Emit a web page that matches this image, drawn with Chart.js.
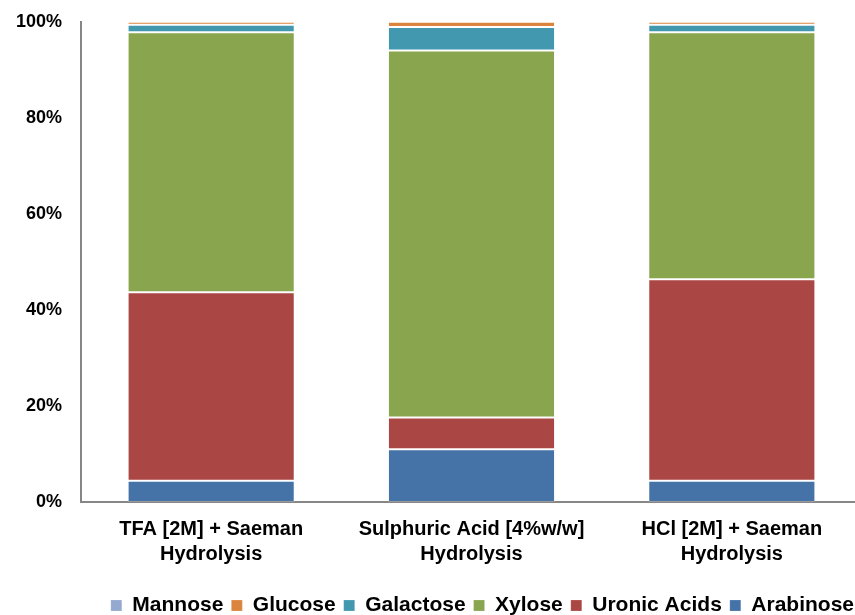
<!DOCTYPE html>
<html>
<head>
<meta charset="utf-8">
<script src="https://cdn.jsdelivr.net/npm/chart.js@4.4.0/dist/chart.umd.min.js"></script>
<style>
    html, body { margin: 0; padding: 0; background: #fff; overflow: hidden; }
    #wrap { width: 862px; height: 615px; }
</style>
</head>
<body>
<div id="wrap"><canvas id="chart-container"></canvas></div>
<script>
const categories = [
    ["TFA [2M] + Saeman", "Hydrolysis"],
    ["Sulphuric Acid [4%w/w]", "Hydrolysis"],
    ["HCl [2M] + Saeman", "Hydrolysis"]
];

// percent of total sugars, bottom of the stack first
const arabinose = [4.4, 11.0, 4.4];
const uronicAcids = [39.3, 6.6, 42.0];
const xylose = [54.1, 76.4, 51.4];
const galactose = [1.6, 4.9, 1.6];
const glucose = [0.6, 1.1, 0.6];
const mannose = [0, 0, 0];

const yTicks = [0, 20, 40, 60, 80, 100];

const FONT = "'Liberation Sans', Arial, sans-serif";

function makeSet(label, data, color) {
    return {
        label: label,
        data: data,
        backgroundColor: color,
        borderColor: "rgba(255,255,255,0.18)",
        borderWidth: 1,
        borderSkipped: false
    };
}

document.addEventListener("DOMContentLoaded", function () {
    const ctx = document.getElementById("chart-container").getContext("2d");

    new Chart(ctx, {
        type: "bar",
        data: {
            labels: categories,
            datasets: [
                makeSet("Arabinose", arabinose, "#4572a7"),
                makeSet("Uronic Acids", uronicAcids, "#aa4643"),
                makeSet("Xylose", xylose, "#89a54e"),
                makeSet("Galactose", galactose, "#4198af"),
                makeSet("Glucose", glucose, "#db843d"),
                makeSet("Mannose", mannose, "#93a9cf")
            ]
        },
        options: {
            responsive: true,
            maintainAspectRatio: false,
            animation: false,
            devicePixelRatio: 1,
            layout: { padding: { top: 6, left: 8, right: 0, bottom: -11 } },
            datasets: {
                bar: { categoryPercentage: 1, barPercentage: 0.642 }
            },
            plugins: {
                tooltip: { enabled: false },
                legend: {
                    position: "bottom",
                    align: "end",
                    reverse: true,
                    title: {
                        display: true,
                        text: "",
                        font: { size: 1, lineHeight: 1 },
                        padding: { top: 0, bottom: 12 }
                    },
                    labels: {
                        color: "#000",
                        font: { family: FONT, size: 21, weight: "bold" },
                        boxWidth: 11,
                        boxHeight: 11,
                        padding: 8
                    }
                }
            },
            scales: {
                x: {
                    stacked: true,
                    grid: { display: false },
                    border: { display: true, color: "#868686", width: 2 },
                    ticks: {
                        color: "#000",
                        font: { family: FONT, size: 20, weight: "bold", lineHeight: 1.25 },
                        maxRotation: 0,
                        padding: 7
                    }
                },
                y: {
                    stacked: true,
                    min: 0,
                    max: 100,
                    afterBuildTicks: function (scale) {
                        scale.ticks = yTicks.map(v => ({ value: v }));
                    },
                    afterFit: function (scale) {
                        scale.width = 73;
                    },
                    grid: { display: false },
                    border: { display: true, color: "#868686", width: 2 },
                    ticks: {
                        color: "#000",
                        font: { family: FONT, size: 18, weight: "bold" },
                        padding: 11,
                        callback: function (value) {
                            return value + "%";
                        }
                    }
                }
            }
        }
    });
});
</script>
</body>
</html>
